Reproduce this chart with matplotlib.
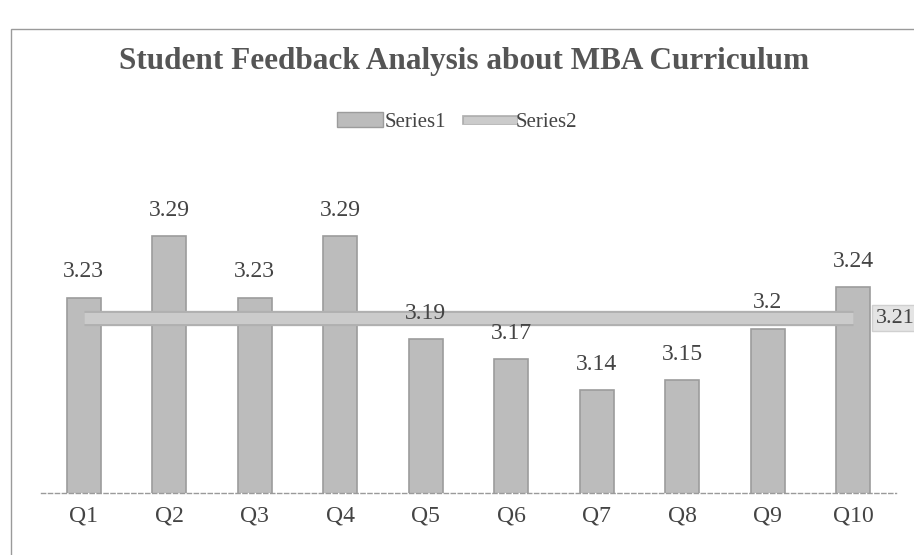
import matplotlib
matplotlib.use("Agg")
import matplotlib.pyplot as plt
import matplotlib.patheffects as pe
from matplotlib.patches import Rectangle, Patch
from matplotlib.lines import Line2D

categories = ["Q1", "Q2", "Q3", "Q4", "Q5", "Q6", "Q7", "Q8", "Q9", "Q10"]
series1 = [3.23, 3.29, 3.23, 3.29, 3.19, 3.17, 3.14, 3.15, 3.2, 3.24]
series1_labels = ["3.23", "3.29", "3.23", "3.29", "3.19", "3.17", "3.14", "3.15", "3.2", "3.24"]
series2 = [3.21] * 10
series2_label = "3.21"

plt.rcParams['font.family'] = ['Liberation Serif', 'DejaVu Serif']
txt = '#444444'

fig = plt.figure(figsize=(9.14, 5.55), dpi=100)
fig.patch.set_facecolor('white')

# chart border
fig.add_artist(Rectangle((11/914, -0.05), 0.99, 1.05 - 29/555, transform=fig.transFigure,
                         fill=False, edgecolor='#9a9a9a', linewidth=1.0))

ax = fig.add_axes([41/914, 1 - 493/555, (896 - 41)/914, (493 - 200)/555])
x = list(range(len(categories)))
bars = ax.bar(x, series1, width=0.4, color='#bcbcbc', edgecolor='#9c9c9c', linewidth=1.2, zorder=2)
ax.set_ylim(3.04, 3.325)
ax.set_xlim(-0.5, len(categories) - 0.5)

line, = ax.plot(x, series2, color='#cbcbcb', linewidth=8, solid_capstyle='butt', zorder=3,
                path_effects=[pe.Stroke(linewidth=11, foreground='#b0b0b0'), pe.Normal()])

for xi, v, lab in zip(x, series1, series1_labels):
    ax.annotate(lab, (xi, v), xytext=(0, 11), textcoords='offset points', ha='center', va='bottom',
                fontsize=17, color=txt, zorder=5)

ax.annotate(series2_label, (x[-1], series2[-1]), xytext=(16, 0), textcoords='offset points',
            ha='left', va='center', fontsize=16, color=txt, zorder=5,
            bbox=dict(boxstyle='square,pad=0.15', facecolor='#e4e4e4', edgecolor='#d0d0d0'))

ax.set_xticks(x)
ax.set_xticklabels(categories, fontsize=17, color=txt)
ax.tick_params(axis='x', length=0, pad=9)
ax.set_yticks([])
for s in ['left', 'right', 'top']:
    ax.spines[s].set_visible(False)
ax.spines['bottom'].set_color('#9a9a9a')
ax.spines['bottom'].set_linestyle((0, (3, 2)))
ax.spines['bottom'].set_linewidth(1.0)

fig.text(0.508, 1 - 62/555, "Student Feedback Analysis about MBA Curriculum", ha='center', va='center',
         fontsize=22.5, fontweight='bold', color='#555555')

handles = [Patch(facecolor='#bcbcbc', edgecolor='#9c9c9c'),
           Line2D([0], [0], color='#cbcbcb', linewidth=5,
                  path_effects=[pe.Stroke(linewidth=7, foreground='#b0b0b0'), pe.Normal()])]
fig.legend(handles, ["Series1", "Series2"], loc='center', bbox_to_anchor=(0.5, 1 - 122/555),
           ncol=2, frameon=False, fontsize=15, handlelength=2.2, handletextpad=0.1,
           columnspacing=1.0, labelcolor=txt)

fig.savefig("out.png", dpi=100)
